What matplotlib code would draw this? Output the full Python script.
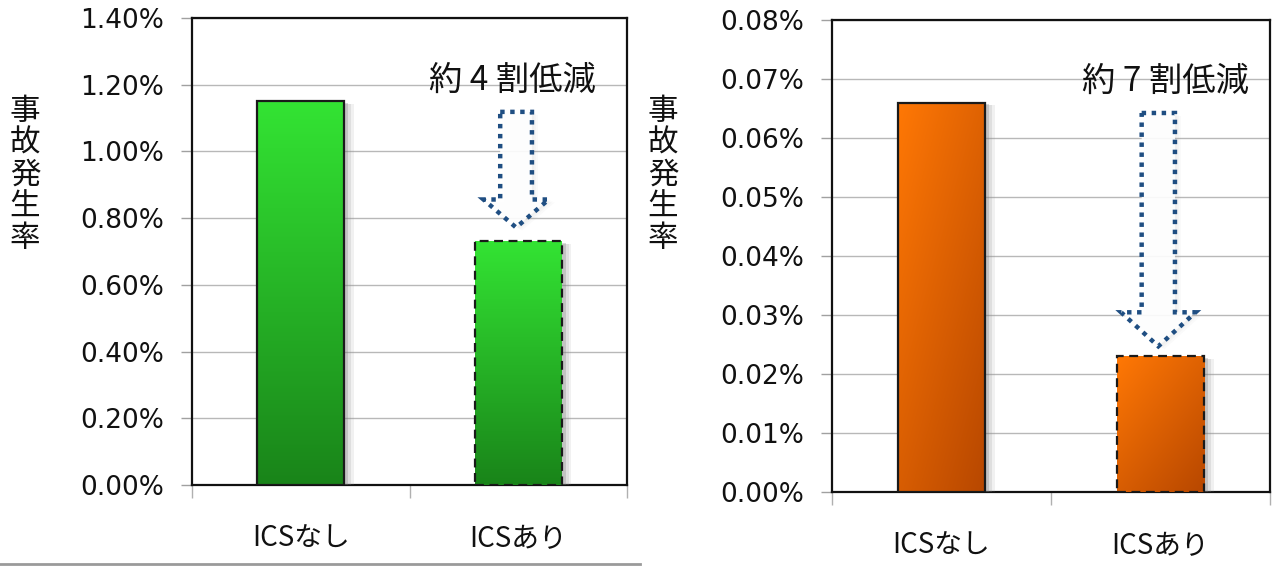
import numpy as np
import matplotlib
matplotlib.use("Agg")
import matplotlib.pyplot as plt
import matplotlib.patheffects as pe
import matplotlib.transforms as mtransforms
from matplotlib.patches import Polygon
from matplotlib.lines import Line2D

plt.rcParams['font.family'] = ['Noto Sans CJK JP', 'DejaVu Sans']

# ---- data ----
categories = ["ICSなし", "ICSあり"]
left_values = [1.15, 0.73]          # %
left_ticks = [0.0, 0.2, 0.4, 0.6, 0.8, 1.0, 1.2, 1.4]
left_tick_labels = ["0.00%", "0.20%", "0.40%", "0.60%", "0.80%", "1.00%", "1.20%", "1.40%"]
left_note = "約 4 割低減"

right_values = [0.066, 0.023]       # %
right_ticks = [0.0, 0.01, 0.02, 0.03, 0.04, 0.05, 0.06, 0.07, 0.08]
right_tick_labels = ["0.00%", "0.01%", "0.02%", "0.03%", "0.04%", "0.05%", "0.06%", "0.07%", "0.08%"]
right_note = "約 7 割低減"

ylabel = "事故発生率"

W, H = 1280, 566
fig = plt.figure(figsize=(W / 100, H / 100), dpi=100)
fig.patch.set_facecolor("white")


def gradient_image(kind, n=64):
    if kind == "green":
        t = np.linspace(0, 1, n)[:, None] * np.ones((1, n))   # 0 top -> 1 bottom
        top = np.array([0.20, 0.89, 0.20])
        bot = np.array([0.10, 0.52, 0.10])
    else:
        yy, xx = np.mgrid[0:1:n * 1j, 0:1:n * 1j]
        t = 0.45 * xx + 0.55 * yy
        top = np.array([1.00, 0.47, 0.02])
        bot = np.array([0.72, 0.28, 0.00])
    img = top[None, None, :] * (1 - t[..., None]) + bot[None, None, :] * t[..., None]
    return img


def draw_panel(rect, values, ticks, tick_labels, note, kind, ylab_x,
               note_x, text_frac, top_frac, head_px, gap_px, shaft_hw, head_hw):
    ax = fig.add_axes(rect)
    x = np.arange(len(values))
    ax.set_xlim(-0.5, len(values) - 0.5)
    ax.set_ylim(ticks[0], ticks[-1])

    base = "#2bd42b" if kind == "green" else "#e86a00"
    shadow = [pe.SimplePatchShadow(offset=(7, -2), shadow_rgbFace="#909090", alpha=0.12),
              pe.SimplePatchShadow(offset=(5, -2), shadow_rgbFace="#909090", alpha=0.18),
              pe.SimplePatchShadow(offset=(3, -1), shadow_rgbFace="#707070", alpha=0.25),
              pe.Normal()]
    bars = ax.bar(x, values, width=0.40, color=base, edgecolor="none", zorder=3,
                  path_effects=shadow)
    img = gradient_image(kind)
    for b in bars:
        bx, by = b.get_x(), b.get_y()
        bw, bh = b.get_width(), b.get_height()
        im = ax.imshow(img, extent=(bx, bx + bw, by, by + bh), aspect="auto",
                       zorder=4, interpolation="bilinear")
        im.set_clip_path(b)
    edges = ax.bar(x, values, width=0.40, fill=False, edgecolor="#1a1a1a",
                   linewidth=1.6, zorder=5)
    edges[1].set_linestyle((0, (4, 2.5)))

    ax.set_aspect("auto")
    ax.set_xlim(-0.5, len(values) - 0.5)
    ax.set_ylim(ticks[0], ticks[-1])

    # grid & ticks
    ax.set_yticks(ticks)
    ax.set_yticklabels(tick_labels, family=['DejaVu Sans'], fontsize=19, color="#111111")
    ax.yaxis.grid(True, color="#b8b8b8", linewidth=1.0, zorder=0)
    ax.set_axisbelow(True)
    ax.tick_params(axis="y", direction="out", length=8, width=1.0, color="#a0a0a0", pad=12)
    ax.set_xticks(x)
    ax.set_xticklabels(categories, fontsize=20, color="#111111")
    ax.tick_params(axis="x", length=0, pad=28)
    ax.set_xticks([-0.5, 0.5, 1.5], minor=True)
    ax.tick_params(axis="x", which="minor", direction="out", length=9, width=1.0, color="#b0b0b0")
    for s in ax.spines.values():
        s.set_color("#111111")
        s.set_linewidth(1.6)

    # y label (vertical stacked characters)
    fig.text(ylab_x, 1 - 175 / H, "\n".join(ylabel), ha="center", va="center",
             fontsize=22, linespacing=1.04, color="#111111")

    # annotation text
    ax.text(note_x, text_frac, note, transform=ax.transAxes,
            ha="center", va="center", fontsize=24, color="#111111", zorder=6)

    # dotted down arrow, anchored above the second bar
    y0, y1 = ax.get_ylim()
    ph = rect[3] * H
    per_px = (y1 - y0) / ph
    ytop = y0 + top_frac * (y1 - y0)
    ytip = values[1] + gap_px * per_px
    yhead = ytip + head_px * per_px
    cx = x[1] - 0.01
    verts = [(cx - shaft_hw, ytop), (cx + shaft_hw, ytop), (cx + shaft_hw, yhead),
             (cx + head_hw, yhead), (cx, ytip), (cx - head_hw, yhead), (cx - shaft_hw, yhead)]
    for dx, a in [(6, 0.05), (4, 0.06), (2, 0.06)]:
        sp = Polygon(verts, closed=True, facecolor="#a0a0a0", edgecolor="none",
                     alpha=a, zorder=5.5,
                     transform=ax.transData + mtransforms.ScaledTranslation(dx / 100, -dx / 200, fig.dpi_scale_trans))
        ax.add_patch(sp)
    inner = Polygon(verts, closed=True, facecolor="white", edgecolor="none", alpha=0.9, zorder=5.6)
    ax.add_patch(inner)
    arrow = Polygon(verts, closed=True, fill=False, edgecolor="#1f4e82", linewidth=3.2,
                    linestyle=(0, (1, 1.25)), zorder=6, capstyle="butt", joinstyle="miter")
    ax.add_patch(arrow)
    return ax


draw_panel([192 / W, 1 - 485 / H, (627 - 192) / W, (485 - 18) / H],
           left_values, left_ticks, left_tick_labels, left_note, "green", 25 / W,
           note_x=0.736, text_frac=0.867, top_frac=0.799, head_px=28, gap_px=14,
           shaft_hw=0.073, head_hw=0.15)

draw_panel([832 / W, 1 - 492 / H, (1270 - 832) / W, (492 - 20) / H],
           right_values, right_ticks, right_tick_labels, right_note, "orange", 663 / W,
           note_x=0.762, text_frac=0.869, top_frac=0.803, head_px=34, gap_px=10,
           shaft_hw=0.076, head_hw=0.17)

# thin grey rule under the left panel
fig.add_artist(Line2D([0, 640 / W], [1 - 564 / H, 1 - 564 / H], transform=fig.transFigure,
                      color="#9a9a9a", linewidth=2))

fig.savefig("out.png", dpi=100, facecolor="white")
